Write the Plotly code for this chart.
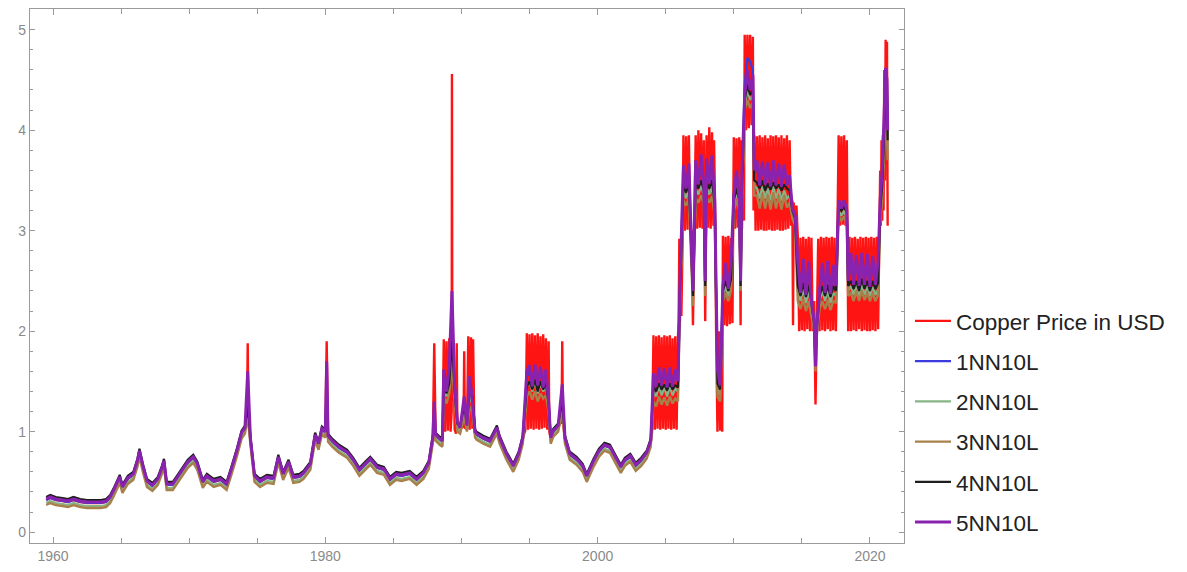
import plotly.graph_objects as go

# ---------------- data ----------------
red_years = [
    1959.5, 1959.8, 1960.2, 1960.7, 1961.1, 1961.5, 1962.0, 1962.5, 1963.0, 1963.5,
    1963.9, 1964.2, 1964.5, 1964.9, 1965.1, 1965.5, 1965.9, 1966.2, 1966.35, 1966.6,
    1966.9, 1967.3, 1967.7, 1968.0, 1968.15, 1968.35, 1968.8, 1969.3, 1969.9, 1970.3,
    1970.6, 1971.0, 1971.3, 1971.8, 1972.3, 1972.75, 1973.1, 1973.5, 1973.85, 1974.1,
    1974.25, 1974.3, 1974.35, 1974.5, 1974.8, 1975.2, 1975.7, 1976.2, 1976.55, 1976.9,
    1977.3, 1977.65, 1978.1, 1978.4, 1978.9, 1979.25, 1979.5, 1979.75, 1980.0, 1980.1,
    1980.2, 1980.5, 1981.0, 1981.6, 1982.05, 1982.5, 1983.0, 1983.3, 1983.8, 1984.3,
    1984.75, 1985.2, 1985.6, 1986.2, 1986.7, 1987.2, 1987.6, 1987.9, 1988.0, 1988.1,
    1988.4, 1988.6,
    1988.7, 1988.8, 1988.9, 1989.0, 1989.1, 1989.2, 1989.28, 1989.3, 1989.33, 1989.4,
    1989.5, 1989.6, 1989.65, 1989.7, 1989.9, 1990.15, 1990.2, 1990.25, 1990.4, 1990.5,
    1990.6, 1990.7, 1990.8, 1990.85, 1990.95, 1991.1, 1991.6, 1992.1, 1992.6, 1992.8,
    1993.3, 1993.8, 1994.2, 1994.5, 1994.7, 1994.8, 1994.9, 1995.0, 1995.1, 1995.2,
    1995.3, 1995.4, 1995.5, 1995.6, 1995.7, 1995.8, 1995.9, 1996.0, 1996.1, 1996.2,
    1996.3, 1996.4, 1996.45, 1996.55, 1996.75, 1997.1, 1997.35, 1997.4, 1997.45, 1997.6,
    1997.95, 1998.45, 1998.9, 1999.2, 1999.7, 2000.1, 2000.5, 2000.9, 2001.3, 2001.7,
    2002.0, 2002.4, 2002.8, 2003.2, 2003.6, 2003.9, 2004.0, 2004.1, 2004.2, 2004.3,
    2004.4, 2004.5, 2004.6, 2004.7, 2004.8, 2004.9, 2005.0, 2005.1, 2005.2, 2005.3,
    2005.4, 2005.5, 2005.6, 2005.7, 2005.8, 2005.9, 2005.95, 2006.0, 2006.05, 2006.1,
    2006.15, 2006.25,
    2006.3, 2006.4, 2006.5, 2006.6, 2006.7, 2006.8, 2006.9, 2007.0, 2007.1, 2007.2,
    2007.3, 2007.4, 2007.5, 2007.6, 2007.7, 2007.8, 2007.9, 2008.0, 2008.1, 2008.2,
    2008.3, 2008.4, 2008.5, 2008.55, 2008.65, 2008.7, 2008.8, 2008.9, 2009.0, 2009.1,
    2009.15, 2009.2, 2009.3, 2009.4, 2009.5, 2009.6, 2009.7, 2009.8, 2009.9, 2010.0,
    2010.1, 2010.2, 2010.3, 2010.4, 2010.5, 2010.55, 2010.6, 2010.7, 2010.75, 2010.8,
    2010.9, 2011.0, 2011.1, 2011.2, 2011.3, 2011.4, 2011.45,
    2011.5, 2011.6, 2011.7, 2011.8, 2011.9, 2012.0, 2012.1, 2012.2, 2012.3, 2012.4,
    2012.5, 2012.6, 2012.7, 2012.8, 2012.9, 2013.0, 2013.1, 2013.2, 2013.3, 2013.4,
    2013.5, 2013.6, 2013.7, 2013.8, 2013.9, 2014.0, 2014.1, 2014.2, 2014.3, 2014.35,
    2014.4, 2014.5, 2014.6,
    2014.7, 2014.8, 2014.9, 2015.0, 2015.1, 2015.2, 2015.3, 2015.4, 2015.5, 2015.6,
    2015.7, 2015.8, 2015.9, 2016.0, 2016.1, 2016.2, 2016.3, 2016.4, 2016.5, 2016.6,
    2016.7, 2016.8, 2016.9, 2017.0, 2017.1, 2017.2, 2017.3, 2017.4, 2017.5, 2017.6,
    2017.7, 2017.8, 2017.9, 2018.0, 2018.1, 2018.2, 2018.3, 2018.4,
    2018.5, 2018.6, 2018.7, 2018.8, 2018.9, 2019.0, 2019.1, 2019.2, 2019.3, 2019.4,
    2019.5, 2019.6, 2019.7, 2019.8, 2019.9, 2020.0, 2020.1, 2020.2, 2020.3, 2020.4,
    2020.5, 2020.6, 2020.7, 2020.75, 2020.8, 2020.85, 2020.9, 2020.95, 2021.0, 2021.05,
    2021.1, 2021.15, 2021.2, 2021.25, 2021.3,
]
copper_price = [
    0.32, 0.34, 0.32, 0.31, 0.30, 0.32, 0.30, 0.29, 0.29, 0.29,
    0.30, 0.34, 0.42, 0.54, 0.44, 0.53, 0.57, 0.70, 0.80, 0.65,
    0.50, 0.46, 0.52, 0.63, 0.70, 0.47, 0.47, 0.57, 0.69, 0.74,
    0.67, 0.49, 0.55, 0.50, 0.52, 0.47, 0.62, 0.80, 0.98, 1.03,
    1.20, 1.88, 1.10, 0.92, 0.55, 0.50, 0.54, 0.53, 0.74, 0.57,
    0.69, 0.54, 0.55, 0.58, 0.67, 0.96, 0.87, 1.02, 0.99, 1.90,
    0.95, 0.90, 0.84, 0.79, 0.71, 0.61, 0.68, 0.72, 0.64, 0.62,
    0.52, 0.57, 0.56, 0.58, 0.52, 0.58, 0.68, 0.94, 1.88, 0.96,
    0.92, 0.90,
    1.92, 1.00, 1.90, 1.01, 1.93, 1.00, 1.20, 4.56, 1.30, 1.91,
    1.02, 0.98, 1.88, 1.00, 1.03, 1.05, 1.80, 1.04, 1.02, 1.95,
    1.02, 1.94, 1.03, 1.92, 1.00, 0.97, 0.93, 0.90, 1.03, 0.93,
    0.77, 0.65, 0.77, 0.93, 1.02, 1.98, 1.02, 1.97, 1.03, 1.98,
    1.02, 1.96, 1.03, 1.98, 1.02, 1.95, 1.03, 1.97, 1.04, 1.93,
    1.02, 1.90, 1.00, 0.93, 1.00, 1.05, 1.10, 1.90, 1.10, 0.93,
    0.77, 0.72, 0.65, 0.55, 0.70, 0.80, 0.86, 0.84, 0.74, 0.64,
    0.71, 0.75, 0.66, 0.71, 0.78, 0.90, 1.00, 1.96, 1.02, 1.95,
    1.03, 1.96, 1.02, 1.94, 1.03, 1.96, 1.02, 1.95, 1.03, 1.96,
    1.02, 1.93, 1.03, 1.95, 1.02, 1.94, 2.10, 2.92, 2.10, 2.90,
    2.15, 3.00,
    3.95, 3.00, 3.94, 3.01, 3.95, 3.02, 3.00, 2.06, 3.00, 3.95,
    3.02, 4.00, 3.03, 3.97, 3.02, 3.90, 2.10, 3.95, 3.03, 4.03,
    3.02, 3.98, 3.05, 3.90, 3.00, 2.00, 1.00, 2.00, 1.01, 1.98,
    1.00, 2.95, 2.06, 2.94, 2.05, 2.95, 2.07, 2.93, 2.08, 3.93,
    3.02, 3.92, 3.03, 3.93, 2.06, 3.90, 3.02, 3.93, 3.10, 4.95,
    4.00, 4.95, 4.02, 4.95, 4.05, 4.93, 3.20,
    3.95, 3.00, 3.94, 3.00, 3.95, 3.01, 3.93, 3.00, 3.95, 3.00,
    3.92, 3.01, 3.95, 3.00, 3.94, 3.00, 3.95, 3.01, 3.93, 3.00,
    3.95, 3.00, 3.92, 3.01, 3.95, 3.02, 3.90, 3.05, 3.30, 2.06,
    3.28, 3.06, 3.25,
    2.94, 2.00, 2.93, 2.01, 2.94, 2.00, 2.92, 2.02, 2.94, 2.00,
    2.93, 2.00, 2.30, 1.27, 2.10, 2.92, 2.00, 2.94, 2.01, 2.93,
    2.00, 2.94, 2.02, 2.93, 2.00, 2.94, 2.01, 2.93, 2.00, 2.90,
    3.95, 3.05, 3.94, 3.06, 3.95, 3.05, 3.90, 2.00,
    2.94, 2.00, 2.93, 2.01, 2.94, 2.00, 2.92, 2.02, 2.94, 2.00,
    2.93, 2.01, 2.94, 2.00, 2.93, 2.00, 2.94, 2.01, 2.93, 2.00,
    2.94, 2.02, 3.05, 3.60, 3.05, 3.90, 3.10, 3.95, 3.20, 4.60,
    3.50, 4.90, 4.00, 4.88, 3.05,
]

nn_years = [
    1959.5, 1959.8, 1960.2, 1960.7, 1961.1, 1961.5, 1962.0, 1962.5, 1963.0, 1963.5,
    1963.9, 1964.2, 1964.5, 1964.9, 1965.1, 1965.5, 1965.9, 1966.2, 1966.35, 1966.6,
    1966.9, 1967.3, 1967.7, 1968.0, 1968.15, 1968.35, 1968.8, 1969.3, 1969.9, 1970.3,
    1970.6, 1971.0, 1971.3, 1971.8, 1972.3, 1972.75, 1973.1, 1973.5, 1973.85, 1974.1,
    1974.3, 1974.5, 1974.8, 1975.2, 1975.7, 1976.2, 1976.55, 1976.9, 1977.3, 1977.65,
    1978.1, 1978.4, 1978.9, 1979.25, 1979.5, 1979.75, 1980.0, 1980.1, 1980.2, 1980.5,
    1981.0, 1981.6, 1982.05, 1982.5, 1983.0, 1983.3, 1983.8, 1984.3, 1984.75, 1985.2,
    1985.6, 1986.2, 1986.7, 1987.2, 1987.6, 1987.9, 1988.0, 1988.1, 1988.4, 1988.6,
    1988.7, 1988.9, 1989.1, 1989.3, 1989.5, 1989.7, 1989.9, 1990.2, 1990.4, 1990.6,
    1990.8, 1991.0, 1991.1, 1991.6, 1992.1, 1992.6, 1992.8, 1993.3, 1993.8, 1994.2,
    1994.5, 1994.8, 1995.0, 1995.2, 1995.4, 1995.6, 1995.8, 1996.0, 1996.2, 1996.4,
    1996.55, 1996.75, 1997.1, 1997.4, 1997.6, 1997.95, 1998.45, 1998.9, 1999.2, 1999.7,
    2000.1, 2000.5, 2000.9, 2001.3, 2001.7, 2002.0, 2002.4, 2002.8, 2003.2, 2003.6,
    2003.9, 2004.1, 2004.3, 2004.5, 2004.7, 2004.9, 2005.1, 2005.3, 2005.5, 2005.7,
    2005.9, 2006.05, 2006.3, 2006.5, 2006.7, 2007.0, 2007.2, 2007.4, 2007.6, 2007.8,
    2007.9, 2008.0, 2008.2, 2008.4, 2008.6, 2008.8, 2009.0, 2009.2, 2009.4, 2009.6,
    2009.8, 2010.0, 2010.2, 2010.4, 2010.5, 2010.6, 2010.8, 2011.0, 2011.2, 2011.4,
    2011.5, 2011.7, 2011.9, 2012.1, 2012.3, 2012.5, 2012.7, 2012.9, 2013.1, 2013.3,
    2013.5, 2013.7, 2013.9, 2014.1, 2014.3, 2014.5, 2014.7, 2014.9, 2015.1, 2015.3,
    2015.5, 2015.7, 2015.9, 2016.0, 2016.1, 2016.3, 2016.5, 2016.7, 2016.9, 2017.1,
    2017.3, 2017.5, 2017.7, 2017.9, 2018.1, 2018.3, 2018.4, 2018.6, 2018.8, 2019.0,
    2019.2, 2019.4, 2019.6, 2019.8, 2020.0, 2020.2, 2020.4, 2020.6, 2020.75, 2020.9,
    2021.05, 2021.15, 2021.25, 2021.3,
]

nn1_blue = [
    .32, .34, .32, .31, .30, .32, .30, .29, .29, .29,
    .30, .34, .42, .54, .44, .53, .57, .70, .80, .65,
    .50, .46, .52, .63, .70, .47, .47, .57, .69, .74,
    .67, .49, .55, .50, .52, .47, .62, .80, .98, 1.03,
    1.40, .92, .55, .50, .54, .53, .74, .57, .69, .54,
    .55, .58, .67, .96, .87, 1.02, .99, 1.50, .95, .90,
    .84, .79, .71, .61, .68, .72, .64, .62, .52, .57,
    .56, .58, .52, .58, .68, .94, 1.15, .96, .92, .90,
    1.55, 1.45, 1.58, 2.10, 1.48, 1.07, 1.03, 1.30, 1.05, 1.50,
    1.35, .99, .97, .93, .90, 1.03, .93, .77, .65, .77,
    .93, 1.55, 1.60, 1.50, 1.62, 1.50, 1.60, 1.48, 1.56, 1.30,
    .93, 1.00, 1.05, 1.38, .93, .77, .72, .65, .55, .70,
    .80, .86, .84, .74, .64, .71, .75, .66, .71, .78,
    .90, 1.52, 1.48, 1.58, 1.50, 1.57, 1.48, 1.58, 1.49, 1.56,
    1.50, 2.45, 3.58, 3.45, 3.60, 2.40, 3.62, 3.50, 3.66, 3.48,
    2.48, 3.62, 3.50, 3.65, 3.30, 1.55, 1.48, 2.45, 2.60, 2.45,
    2.62, 3.35, 3.52, 3.35, 2.50, 3.50, 4.45, 4.72, 4.68, 4.60,
    3.60, 3.62, 3.50, 3.62, 3.50, 3.60, 3.48, 3.62, 3.50, 3.60,
    3.48, 3.58, 3.48, 3.50, 3.22, 3.15, 2.60, 2.42, 2.62, 2.40,
    2.60, 2.32, 2.10, 1.70, 2.05, 2.42, 2.58, 2.42, 2.60, 2.40,
    2.58, 2.45, 3.30, 3.25, 3.30, 3.22, 2.50, 2.68, 2.50, 2.66,
    2.50, 2.68, 2.50, 2.66, 2.48, 2.65, 2.50, 2.62, 3.25, 3.55,
    4.10, 4.55, 4.45, 3.95,
]
nn2_green = [
    .29, .31, .29, .28, .27, .29, .27, .26, .26, .26,
    .27, .31, .39, .51, .41, .50, .54, .67, .77, .62,
    .47, .43, .49, .60, .67, .44, .44, .54, .66, .71,
    .64, .46, .52, .47, .49, .44, .59, .77, .95, 1.00,
    1.20, .89, .52, .47, .51, .50, .71, .54, .66, .51,
    .52, .55, .64, .93, .84, .99, .96, 1.30, .92, .87,
    .81, .76, .68, .58, .65, .69, .61, .59, .49, .54,
    .53, .55, .49, .55, .65, .91, 1.05, .93, .90, .87,
    1.45, 1.35, 1.48, 1.80, 1.38, 1.03, 1.00, 1.20, 1.02, 1.35,
    1.28, .96, .94, .90, .87, 1.00, .90, .74, .62, .74,
    .90, 1.45, 1.50, 1.40, 1.50, 1.38, 1.48, 1.40, 1.45, 1.25,
    .90, .97, 1.02, 1.25, .90, .74, .69, .62, .52, .67,
    .77, .83, .81, .71, .61, .68, .72, .63, .68, .75,
    .87, 1.40, 1.35, 1.45, 1.36, 1.44, 1.35, 1.45, 1.36, 1.43,
    1.40, 2.35, 3.40, 3.32, 3.42, 2.30, 3.42, 3.36, 3.45, 3.35,
    2.40, 3.43, 3.36, 3.44, 3.20, 1.42, 1.36, 2.35, 2.45, 2.35,
    2.48, 3.25, 3.38, 3.25, 2.42, 3.35, 4.25, 4.40, 4.30, 4.35,
    3.45, 3.42, 3.32, 3.44, 3.32, 3.42, 3.30, 3.44, 3.32, 3.42,
    3.30, 3.40, 3.32, 3.35, 3.15, 3.08, 2.40, 2.30, 2.42, 2.28,
    2.40, 2.22, 2.05, 1.65, 2.00, 2.30, 2.40, 2.30, 2.40, 2.28,
    2.38, 2.35, 3.20, 3.15, 3.20, 3.12, 2.40, 2.45, 2.36, 2.46,
    2.35, 2.46, 2.36, 2.45, 2.35, 2.44, 2.36, 2.42, 3.15, 3.40,
    3.90, 4.30, 4.25, 3.80,
]
nn3_brown = [
    .27, .29, .27, .26, .25, .27, .25, .24, .24, .24,
    .25, .29, .37, .49, .39, .48, .52, .65, .75, .60,
    .45, .41, .47, .58, .65, .42, .42, .52, .64, .69,
    .62, .44, .50, .45, .47, .42, .57, .75, .93, .98,
    1.15, .87, .50, .45, .49, .48, .69, .52, .64, .49,
    .50, .53, .62, .91, .82, .97, .94, 1.25, .90, .85,
    .79, .74, .66, .56, .63, .67, .59, .57, .47, .52,
    .51, .53, .47, .53, .63, .89, 1.00, .91, .87, .85,
    1.35, 1.28, 1.38, 1.70, 1.30, 1.00, .98, 1.15, 1.00, 1.25,
    1.20, .94, .92, .88, .85, .98, .88, .72, .60, .72,
    .88, 1.35, 1.40, 1.32, 1.40, 1.30, 1.38, 1.33, 1.36, 1.20,
    .88, .95, 1.00, 1.20, .88, .72, .67, .60, .50, .65,
    .75, .81, .79, .69, .59, .66, .70, .61, .66, .73,
    .85, 1.30, 1.25, 1.35, 1.27, 1.34, 1.26, 1.35, 1.28, 1.33,
    1.30, 2.30, 3.30, 3.25, 3.32, 2.25, 3.32, 3.28, 3.35, 3.27,
    2.35, 3.33, 3.28, 3.34, 3.15, 1.35, 1.30, 2.30, 2.38, 2.30,
    2.40, 3.20, 3.30, 3.20, 2.40, 3.28, 4.20, 4.30, 4.22, 4.28,
    3.35, 3.35, 3.22, 3.37, 3.22, 3.36, 3.21, 3.38, 3.22, 3.35,
    3.21, 3.35, 3.23, 3.28, 3.12, 3.05, 2.30, 2.22, 2.32, 2.20,
    2.30, 2.15, 2.00, 1.60, 1.98, 2.22, 2.30, 2.22, 2.31, 2.21,
    2.30, 2.28, 3.15, 3.10, 3.14, 3.08, 2.35, 2.38, 2.30, 2.40,
    2.30, 2.40, 2.31, 2.38, 2.30, 2.38, 2.30, 2.36, 3.10, 3.30,
    3.80, 4.20, 4.15, 3.70,
]
nn4_black = [
    .35, .37, .35, .34, .33, .35, .33, .32, .32, .32,
    .33, .37, .45, .57, .47, .56, .60, .73, .83, .68,
    .53, .49, .55, .66, .73, .50, .50, .60, .72, .77,
    .70, .52, .58, .53, .55, .50, .65, .83, 1.01, 1.06,
    1.25, .95, .58, .53, .57, .56, .77, .60, .72, .57,
    .58, .61, .70, .99, .90, 1.05, 1.02, 1.35, .98, .93,
    .87, .82, .74, .64, .71, .75, .67, .65, .55, .60,
    .59, .61, .55, .61, .71, .97, 1.10, .99, .95, .93,
    1.45, 1.38, 1.48, 1.90, 1.40, 1.08, 1.06, 1.25, 1.08, 1.40,
    1.35, 1.02, 1.00, .96, .93, 1.06, .96, .80, .68, .80,
    .96, 1.45, 1.50, 1.42, 1.52, 1.40, 1.50, 1.42, 1.48, 1.28,
    .96, 1.03, 1.08, 1.30, .96, .80, .75, .68, .58, .73,
    .83, .89, .87, .77, .67, .74, .78, .69, .74, .81,
    .93, 1.45, 1.40, 1.48, 1.42, 1.47, 1.41, 1.48, 1.42, 1.46,
    1.44, 2.40, 3.45, 3.38, 3.48, 2.35, 3.48, 3.42, 3.50, 3.40,
    2.45, 3.48, 3.42, 3.50, 3.25, 1.48, 1.42, 2.40, 2.50, 2.40,
    2.52, 3.30, 3.42, 3.30, 2.45, 3.40, 4.30, 4.45, 4.35, 4.40,
    3.50, 3.48, 3.42, 3.50, 3.40, 3.47, 3.41, 3.48, 3.42, 3.46,
    3.40, 3.46, 3.42, 3.40, 3.20, 3.12, 2.45, 2.35, 2.48, 2.34,
    2.46, 2.28, 2.08, 1.70, 2.05, 2.35, 2.45, 2.35, 2.46, 2.34,
    2.45, 2.40, 3.25, 3.20, 3.24, 3.18, 2.45, 2.50, 2.42, 2.50,
    2.40, 2.52, 2.42, 2.50, 2.40, 2.50, 2.42, 2.48, 3.20, 3.45,
    4.00, 4.40, 4.35, 3.90,
]
nn5_purple = [
    .33, .35, .33, .32, .31, .33, .31, .30, .30, .30,
    .31, .35, .43, .55, .45, .54, .58, .71, .81, .66,
    .51, .47, .53, .64, .71, .48, .48, .58, .70, .75,
    .68, .50, .56, .51, .53, .48, .63, .81, .99, 1.04,
    1.60, .93, .56, .51, .55, .54, .75, .58, .70, .55,
    .56, .59, .68, .97, .88, 1.03, 1.00, 1.70, .96, .91,
    .85, .80, .72, .62, .69, .73, .65, .63, .53, .58,
    .57, .59, .53, .59, .69, .95, 1.30, .97, .93, .91,
    1.62, 1.40, 1.64, 2.40, 1.45, 1.10, 1.04, 1.35, 1.06, 1.55,
    1.30, 1.00, .98, .94, .91, 1.04, .94, .78, .66, .78,
    .94, 1.60, 1.66, 1.45, 1.67, 1.46, 1.65, 1.44, 1.62, 1.30,
    .94, 1.01, 1.06, 1.47, .94, .78, .73, .66, .56, .71,
    .81, .87, .85, .75, .65, .72, .76, .67, .72, .79,
    .91, 1.58, 1.45, 1.64, 1.46, 1.63, 1.44, 1.64, 1.45, 1.62,
    1.50, 2.50, 3.65, 3.42, 3.67, 2.40, 3.70, 3.46, 3.76, 3.45,
    2.50, 3.72, 3.47, 3.75, 3.30, 1.62, 1.46, 2.45, 2.68, 2.42,
    2.70, 3.35, 3.60, 3.32, 2.50, 3.58, 4.35, 4.60, 4.40, 4.55,
    3.60, 3.70, 3.45, 3.69, 3.46, 3.68, 3.44, 3.70, 3.45, 3.67,
    3.44, 3.66, 3.45, 3.55, 3.22, 3.15, 2.70, 2.38, 2.72, 2.36,
    2.70, 2.30, 2.10, 1.65, 2.05, 2.40, 2.68, 2.38, 2.70, 2.37,
    2.66, 2.45, 3.30, 3.22, 3.30, 3.20, 2.50, 2.78, 2.46, 2.76,
    2.45, 2.78, 2.46, 2.77, 2.44, 2.75, 2.46, 2.70, 3.30, 3.60,
    4.20, 4.62, 4.50, 4.00,
]

series_names = ["Copper Price in USD", "1NN10L", "2NN10L", "3NN10L", "4NN10L", "5NN10L"]
series_colors = ["#FF1414", "#3B3BE0", "#86B486", "#A8804A", "#1E1E1E", "#8A22B0"]
x_ticks = [1960, 1980, 2000, 2020]
y_ticks = [0, 1, 2, 3, 4, 5]

assert len(red_years) == len(copper_price), (len(red_years), len(copper_price))
for s in (nn1_blue, nn2_green, nn3_brown, nn4_black, nn5_purple):
    assert len(s) == len(nn_years), (len(s), len(nn_years))

# ---------------- figure ----------------
# The page body has an 8px margin, so the figure is 16px smaller than the window.
fig = go.Figure()
all_x = [red_years] + [nn_years] * 5
all_y = [copper_price, nn1_blue, nn2_green, nn3_brown, nn4_black, nn5_purple]
widths = [2.4, 2.2, 2.2, 2.4, 2.2, 3.0]
for i, (xs, ys) in enumerate(zip(all_x, all_y)):
    fig.add_trace(go.Scatter(
        x=xs, y=ys, mode="lines", name=series_names[i],
        legendgroup=f"g{i}",
        line=dict(color=series_colors[i], width=widths[i], simplify=False),
    ))

frame = "#9a9a9a"
tickfont = dict(family="Liberation Sans, Arial, sans-serif", size=14, color="#8a8a8a")
fig.update_layout(
    width=1171, height=556,
    margin=dict(l=22, r=275, t=0, b=16),
    paper_bgcolor="white", plot_bgcolor="white",
    showlegend=True,
    legend=dict(
        x=1.00686, xanchor="left", y=0.4556, yanchor="top",
        font=dict(family="Liberation Sans, Arial, sans-serif", size=22.5, color="#222222"),
        tracegroupgap=8, itemwidth=36, bgcolor="rgba(0,0,0,0)",
    ),
    xaxis=dict(
        range=[1958.31, 2022.5], showgrid=False, zeroline=False,
        showline=True, linecolor=frame, linewidth=1.2, mirror="ticks",
        ticks="inside", ticklen=6, tickcolor=frame, tickwidth=1,
        tickmode="array", tickvals=x_ticks, ticktext=[str(v) for v in x_ticks],
        tickfont=tickfont,
        minor=dict(dtick=5, tick0=1960, ticks="inside", ticklen=5, tickcolor=frame, showgrid=False),
    ),
    yaxis=dict(
        range=[-0.108, 5.206], showgrid=False, zeroline=False,
        showline=True, linecolor=frame, linewidth=1.2, mirror="ticks",
        ticks="inside", ticklen=5, tickcolor=frame, tickwidth=1,
        tickmode="array", tickvals=y_ticks, ticktext=[str(v) for v in y_ticks],
        tickfont=tickfont,
        minor=dict(dtick=0.2, tick0=0, ticks="inside", ticklen=3, tickcolor=frame, showgrid=False),
    ),
)

fig.write_html("out.html")
